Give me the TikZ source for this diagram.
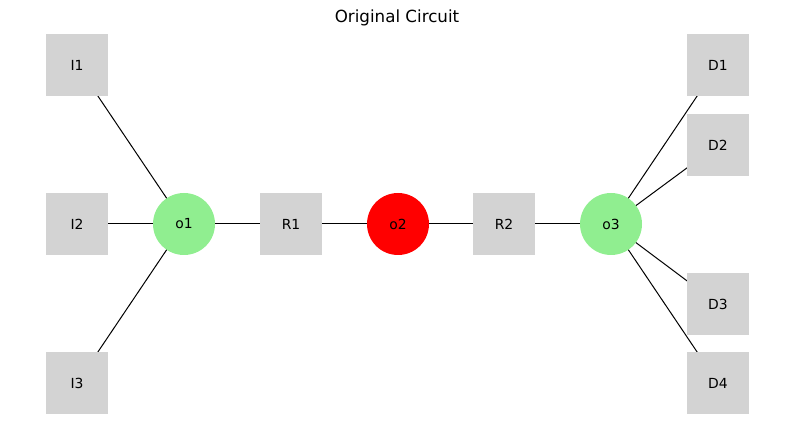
\documentclass[tikz,border=0pt]{standalone}
\usepackage{fontspec}
\setmainfont{DejaVu Sans}
\usetikzlibrary{backgrounds}
\definecolor{lgray}{RGB}{211,211,211}
\definecolor{lgreen}{RGB}{144,238,144}
\tikzset{
  sq/.style={rectangle, fill=lgray, minimum width=62pt, minimum height=62pt, inner sep=0pt, font=\fontsize{13.9}{16}\selectfont},
  gnode/.style={circle, fill=lgreen, minimum size=62pt, inner sep=0pt, font=\fontsize{13.9}{16}\selectfont},
  rnode/.style={circle, fill=red, minimum size=62pt, inner sep=0pt, font=\fontsize{13.9}{16}\selectfont},
  edge/.style={draw=black, line width=1pt}
}
\begin{document}
\begin{tikzpicture}[x=1pt,y=1pt]
\useasboundingbox (0,0) rectangle (794,-427);
\node[font=\fontsize{16.7}{20}\selectfont] (title) at (397,-18) {Original Circuit};
\node[sq] (I1) at (77,-65) {I1};
\node[sq] (I2) at (77,-224) {I2};
\node[sq] (I3) at (77,-383) {I3};
\node[gnode] (o1) at (184,-224) {o1};
\node[sq] (R1) at (291,-224) {R1};
\node[rnode] (o2) at (398,-224) {o2};
\node[sq] (R2) at (504,-224) {R2};
\node[gnode] (o3) at (611,-224) {o3};
\node[sq] (D1) at (718,-65) {D1};
\node[sq] (D2) at (718,-145) {D2};
\node[sq] (D3) at (718,-304) {D3};
\node[sq] (D4) at (718,-383) {D4};
\begin{scope}[on background layer]
\draw[edge] (I1.center) -- (o1.center);
\draw[edge] (I2.center) -- (o1.center);
\draw[edge] (I3.center) -- (o1.center);
\draw[edge] (o1.center) -- (R1.center);
\draw[edge] (R1.center) -- (o2.center);
\draw[edge] (o2.center) -- (R2.center);
\draw[edge] (R2.center) -- (o3.center);
\draw[edge] (o3.center) -- (D1.center);
\draw[edge] (o3.center) -- (D2.center);
\draw[edge] (o3.center) -- (D3.center);
\draw[edge] (o3.center) -- (D4.center);
\end{scope}
\end{tikzpicture}
\end{document}
